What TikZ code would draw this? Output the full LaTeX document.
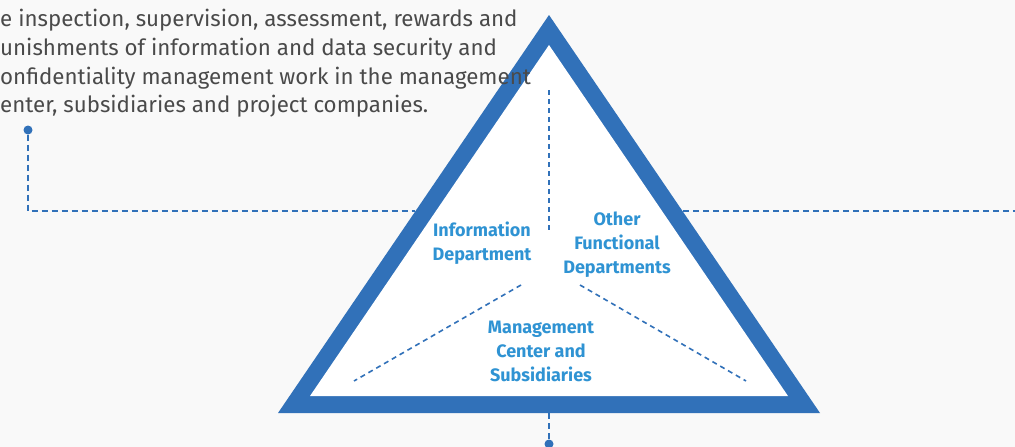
\documentclass[tikz,border=0pt]{standalone}
\usepackage{fontspec}
\setmainfont{Fira Sans}
\usepackage{tikz}
\usetikzlibrary{positioning}
\definecolor{triblue}{HTML}{3171B9}
\definecolor{labelblue}{HTML}{2F93D3}
\definecolor{textgray}{HTML}{4A4A4A}
\definecolor{bggray}{HTML}{F9F9F9}
\tikzset{
  link/.style={draw=triblue, line width=2pt, dash pattern=on 6pt off 4pt},
  divider/.style={draw=triblue, line width=1.6pt, dash pattern=on 5pt off 4pt},
  part/.style={text=labelblue, font=\fontsize{18}{24}\selectfont\bfseries, align=center},
  note/.style={text=textgray, font=\fontsize{22.3}{26}\selectfont, anchor=base west, inner sep=0pt},
  dot/.style={circle, fill=triblue, inner sep=0pt, minimum size=9pt},
}

\begin{document}
\begin{tikzpicture}[x=1pt, y=-1pt]
        % Background and picture size
        \fill[bggray] (0,0) rectangle (1015,447);
        \useasboundingbox (0,0) rectangle (1015,447);
        % Define the corners of the triangle
        \coordinate (T) at (549,15);
        \coordinate (L) at (278,413);
        \coordinate (R) at (820,413);
        \coordinate (Ti) at (549,45);
        \coordinate (Li) at (310,396);
        \coordinate (Ri) at (788,396);
        % Draw the triangle
        \fill[triblue] (T) -- (L) -- (R) -- cycle;
        \fill[white] (Ti) -- (Li) -- (Ri) -- cycle;
        % Dashed dividers inside
        \coordinate (up1) at (549,90);
        \coordinate (up2) at (549,232);
        \coordinate (dl1) at (521,285);
        \coordinate (dl2) at (354,381);
        \coordinate (dr1) at (580,285);
        \coordinate (dr2) at (746,381);
        \draw[divider] (up1) -- (up2);
        \draw[divider] (dl1) -- (dl2);
        \draw[divider] (dr1) -- (dr2);
        % Labels of the three parts
        \node[part] (info) at (482,243) {Information\\Department};
        \node[part] (other) at (617,245) {Other\\Functional\\Departments};
        \node[part] (mgmt) at (541,351) {Management\\Center and\\Subsidiaries};
        % Text at the top left
        \node[note] (note1) at (0,27) {e inspection, supervision, assessment, rewards and};
        \node[note] (note2) at (0,55) {unishments of information and data security and};
        \node[note] (note3) at (0,84) {onfidentiality management work in the management};
        \node[note] (note4) at (0,112) {enter, subsidiaries and project companies.};
        % Connectors
        \node[dot] (ldot) at (28,130) {};
        \coordinate (lcorner) at (28,211);
        \coordinate (ledge) at (415,211);
        \coordinate (redge) at (683,211);
        \coordinate (rend) at (1015,211);
        \coordinate (bmid) at (549,413);
        \node[dot] (bdot) at (549,444) {};
        \draw[link] (ldot) -- (lcorner) -- (ledge);
        \draw[link] (redge) -- (rend);
        \draw[link] (bmid) -- (bdot);
\end{tikzpicture}
\end{document}
